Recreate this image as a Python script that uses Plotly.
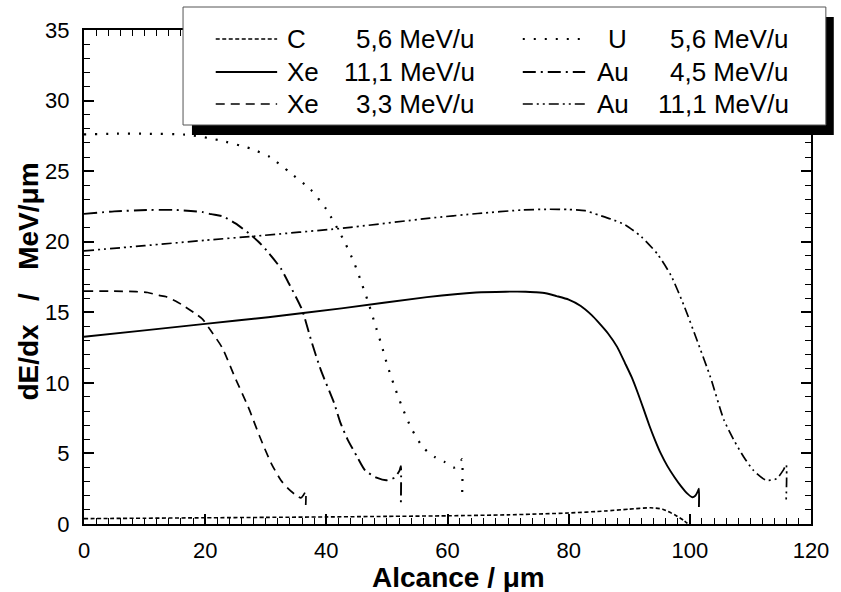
import plotly.graph_objects as go

# Stopping power curves dE/dx versus range for several ions
c56_x = [0, 10, 20, 30, 40, 50, 60, 70, 80, 86, 90, 93.5, 95.5, 97.5, 99, 99.6]
c56_y = [0.38, 0.41, 0.44, 0.47, 0.50, 0.54, 0.58, 0.65, 0.78, 0.92, 1.05, 1.15, 1.05, 0.65, 0.25, 0.05]

xe111_x = [0, 10, 20, 30.4, 42.5, 56.6, 64.7, 69.6, 72.9, 74.5, 76.2, 78, 80, 82, 83.8, 85,
           86.5, 88, 89.3, 90.4, 91.4, 92.4, 93.3, 94.2, 95.2, 96.3, 97.5, 98.6, 99.6, 100.4,
           100.9, 101.3, 101.5, 101.5]
xe111_y = [13.27, 13.72, 14.18, 14.65, 15.28, 16.07, 16.4, 16.46, 16.46, 16.42, 16.35, 16.15,
           15.9, 15.45, 14.8, 14.25, 13.5, 12.55, 11.4, 10.4, 9.3, 8.1, 7.0, 6.0, 5.0, 4.1,
           3.3, 2.65, 2.15, 1.9, 2.0, 2.3, 2.5, 1.2]

xe33_x = [0, 5, 8.6, 10.5, 12.4, 13.6, 15.1, 16.3, 18.4, 19.6, 20.6, 22.8, 24.9, 27.1, 29.0,
          30.9, 32.5, 33.7, 34.8, 35.8, 36.3, 36.6, 36.6]
xe33_y = [16.5, 16.5, 16.46, 16.4, 16.2, 16.1, 15.8, 15.5, 14.9, 14.5, 13.9, 12.5, 10.4, 8.3, 6.2,
          4.3, 3.1, 2.5, 2.1, 1.85, 2.1, 2.3, 1.35]

u56_x = [0, 5, 10, 17.3, 22.2, 27.5, 30.7, 34, 37.4, 40, 43.0, 44.6, 45.8, 47.0, 48.0, 49.1,
         50.1, 51.2, 52.5, 54.0, 56, 57.9, 59.5, 61.1, 62.0, 62.4, 62.4]
u56_y = [27.6, 27.65, 27.65, 27.57, 27.2, 26.6, 26.0, 24.9, 23.7, 22.3, 20.0, 18.5, 17.1, 15.6,
         14.2, 12.7, 11.2, 9.8, 8.3, 6.8, 5.4, 4.75, 4.4, 4.0, 4.3, 4.6, 1.8]

au45_x = [0, 5, 10.9, 15, 19.6, 21, 22.9, 25, 27.2, 28.8, 30.5, 32.5, 33.8, 35.97, 37.5, 39.1,
          41.3, 42.3, 43.5, 45.1, 46.4, 48.4, 50, 51.3, 52.1, 52.3, 52.3]
au45_y = [21.97, 22.15, 22.25, 22.25, 22.1, 21.95, 21.8, 21.3, 20.6, 20.0, 19.2, 18.1, 17.06,
          15.2, 13.0, 10.9, 8.55, 7.2, 6.0, 4.75, 3.8, 3.26, 3.1, 3.3, 3.8, 4.1, 1.35]

au111_x = [0, 10, 20, 28.3, 42.5, 57.1, 65, 72.4, 76.7, 80, 82.7, 84.9, 87, 89.3, 92, 94.7,
           96.9, 99.1, 101.2, 103.4, 105.6, 107.2, 108.9, 110.5, 112.6, 114.3, 115.4, 115.9, 115.9]
au111_y = [19.35, 19.72, 20.1, 20.4, 20.95, 21.67, 22.0, 22.25, 22.3, 22.28, 22.2, 21.9, 21.6,
           21.2, 20.35, 19.1, 17.6, 15.4, 13.0, 10.4, 7.4, 6.0, 4.75, 3.8, 3.1, 3.2, 3.8, 4.2, 1.7]

ions = ["C", "Xe", "Xe", "U", "Au", "Au"]
energies = ["5,6 MeV/u", "11,1 MeV/u", "3,3 MeV/u", "5,6 MeV/u", "4,5 MeV/u", "11,1 MeV/u"]

# line dash patterns per series
dash_c = "4px,2.5px"
dash_xe111 = "solid"
dash_xe33 = "9px,6px"
dash_u = "2px,9px"
dash_au45 = "13px,5px,2px,5px"
dash_au111 = "10px,4px,2px,4px,2px,4px"

series = [
    (c56_x, c56_y, dash_c, 1.6),
    (xe111_x, xe111_y, dash_xe111, 1.9),
    (xe33_x, xe33_y, dash_xe33, 1.7),
    (u56_x, u56_y, dash_u, 2.2),
    (au45_x, au45_y, dash_au45, 1.9),
    (au111_x, au111_y, dash_au111, 1.7),
]

fig = go.Figure()
for (xs, ys, dash, w), ion, en in zip(series, ions, energies):
    fig.add_trace(go.Scatter(x=xs, y=ys, mode="lines", name=f"{ion} {en}",
                             line=dict(color="black", width=w, dash=dash,
                                       shape="spline", smoothing=0.6),
                             showlegend=False))

# plot area in pixels (841 x 592 canvas)
L, R, T, B = 84, 818, 30, 524


def px(xp):
    return (xp - L) / (R - L)


def py(yp):
    return (B - yp) / (B - T)


FONT = "Liberation Sans, Arial, sans-serif"
NB = "\u00a0"
shapes = []
annotations = []

# legend frame with drop shadow
shapes.append(dict(type="rect", xref="paper", yref="paper", layer="above",
                   x0=px(193), x1=px(841), y0=py(135), y1=py(17),
                   fillcolor="black", line=dict(width=0)))
shapes.append(dict(type="rect", xref="paper", yref="paper", layer="above",
                   x0=px(184), x1=px(833), y0=py(125), y1=py(7),
                   fillcolor="white", line=dict(color="#555555", width=1)))

rows_y = [39, 72, 104]
col_layout = [
    # (sample x0, sample x1, name x, value right x)
    (217, 279, 287, 481),
    (527, 590, None, 798),
]
name_x_col2 = {"U": 611, "Au": 600}
for i, ((xs, ys, dash, w), ion, en) in enumerate(zip(series, ions, energies)):
    col = 0 if i < 3 else 1
    row = i % 3
    sx0, sx1, nx, vx = col_layout[col]
    if nx is None:
        nx = name_x_col2[ion]
    yy = rows_y[row]
    shapes.append(dict(type="line", xref="paper", yref="paper", layer="above",
                       x0=px(sx0), x1=px(sx1), y0=py(yy), y1=py(yy),
                       line=dict(color="black", width=w, dash=dash)))
    annotations.append(dict(xref="paper", yref="paper", x=px(nx), y=py(yy),
                            xanchor="left", yanchor="middle", showarrow=False,
                            text=ion, font=dict(family=FONT, size=26, color="black")))
    annotations.append(dict(xref="paper", yref="paper", x=px(vx), y=py(yy),
                            xanchor="right", yanchor="middle", showarrow=False,
                            text=en, font=dict(family=FONT, size=26, color="black")))

# axis titles
annotations.append(dict(xref="paper", yref="paper", x=px(462), y=py(577),
                        xanchor="center", yanchor="middle", showarrow=False,
                        text="<b>Alcance / μm</b>",
                        font=dict(family=FONT, size=28, color="black")))
annotations.append(dict(xref="paper", yref="paper", x=px(27), y=py(282),
                        xanchor="center", yanchor="middle", showarrow=False, textangle=-90,
                        text=f"<b>dE/dx{NB * 3}/{NB * 3}MeV/μm</b>",
                        font=dict(family=FONT, size=28, color="black")))

axis_common = dict(
    showgrid=False, zeroline=False, showline=True, linecolor="black", linewidth=2,
    mirror="ticks", ticks="inside", ticklen=10, tickwidth=1.5, tickcolor="black",
    tickfont=dict(family=FONT, size=22, color="black"),
)

fig.update_layout(
    width=841, height=592, autosize=False,
    margin=dict(l=L, r=841 - R, t=T, b=592 - B),
    paper_bgcolor="white", plot_bgcolor="white",
    shapes=shapes, annotations=annotations, showlegend=False,
    xaxis=dict(range=[0, 120], tick0=0, dtick=20, ticklabelstandoff=6,
               minor=dict(dtick=2, ticks="inside", ticklen=6, tickwidth=1.2, tickcolor="black"),
               **axis_common),
    yaxis=dict(range=[0, 35], tick0=0, dtick=5, ticklabelstandoff=8,
               minor=dict(dtick=1, ticks="inside", ticklen=6, tickwidth=1.2, tickcolor="black"),
               **axis_common),
)

fig.write_html("out.html")
